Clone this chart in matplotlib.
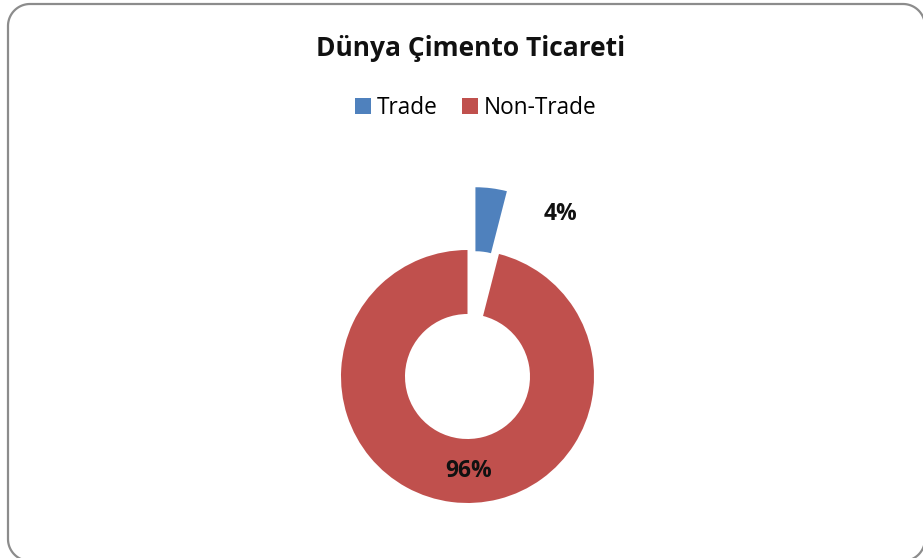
import matplotlib
matplotlib.use("Agg")
import matplotlib.pyplot as plt
import numpy as np
from matplotlib.lines import Line2D

categories = ["Trade", "Non-Trade"]
shares = [4, 96]
pct_labels = ["4%", "96%"]
colors = ["#4F81BD", "#C0504D"]
title = "Dünya Çimento Ticareti"

W, H = 923, 558
R = 126.5
fig = plt.figure(figsize=(W / 100, H / 100), dpi=100)
fig.patch.set_facecolor("white")
ax = fig.add_axes([0, 0, 1, 1])

wedges, _ = ax.pie(
    shares,
    colors=colors,
    startangle=90,
    counterclock=False,
    explode=[0.5 * R, 0],
    center=(467.5, H - 376.5),
    radius=R,
    wedgeprops=dict(width=64, edgecolor="none"),
)
ax.set_xlim(0, W)
ax.set_ylim(0, H)
ax.set_aspect("equal")
ax.axis("off")

font = ["Open Sans", "DejaVu Sans"]
ax.text(560, H - 214, pct_labels[0], ha="center", va="center",
        fontsize=16.5, fontweight="bold", family=font, color="#111111")
ax.text(469, H - 471, pct_labels[1], ha="center", va="center",
        fontsize=16.5, fontweight="bold", family=font, color="#111111")

fig.text(471 / W, 1 - 48.5 / H, title, ha="center", va="center",
         fontsize=19, fontweight="bold", family=font, color="#111111")

leg = fig.legend(wedges, categories, loc="center", bbox_to_anchor=(475.5 / W, 1 - 108 / H),
                 ncol=2, frameon=False, prop=dict(family=font, size=16.3),
                 handlelength=0.7, handleheight=0.7, handletextpad=0.25,
                 columnspacing=1.1)

# rounded chart-area border (sampled as straight segments)
x0, x1, y_top, y_bot, rc = 8.0, 925.0, H - 4.0, -3.0, 22.0
def arc(cx, cy, a0, a1):
    t = np.radians(np.linspace(a0, a1, 30))
    return cx + rc * np.cos(t), cy + rc * np.sin(t)
segs_x, segs_y = [], []
for cx, cy, a0, a1 in [(x0 + rc, y_bot + rc, 270, 180),
                       (x0 + rc, y_top - rc, 180, 90),
                       (x1 - rc, y_top - rc, 90, 0),
                       (x1 - rc, y_bot + rc, 360, 270)]:
    ax_, ay_ = arc(cx, cy, a0, a1)
    segs_x.extend(ax_); segs_y.extend(ay_)
segs_x.append(segs_x[0]); segs_y.append(segs_y[0])
ax.add_line(Line2D(segs_x, segs_y, color="#8C8C8C", linewidth=1.6,
                   clip_on=False, solid_joinstyle="round"))

fig.savefig("out.png", dpi=100)
